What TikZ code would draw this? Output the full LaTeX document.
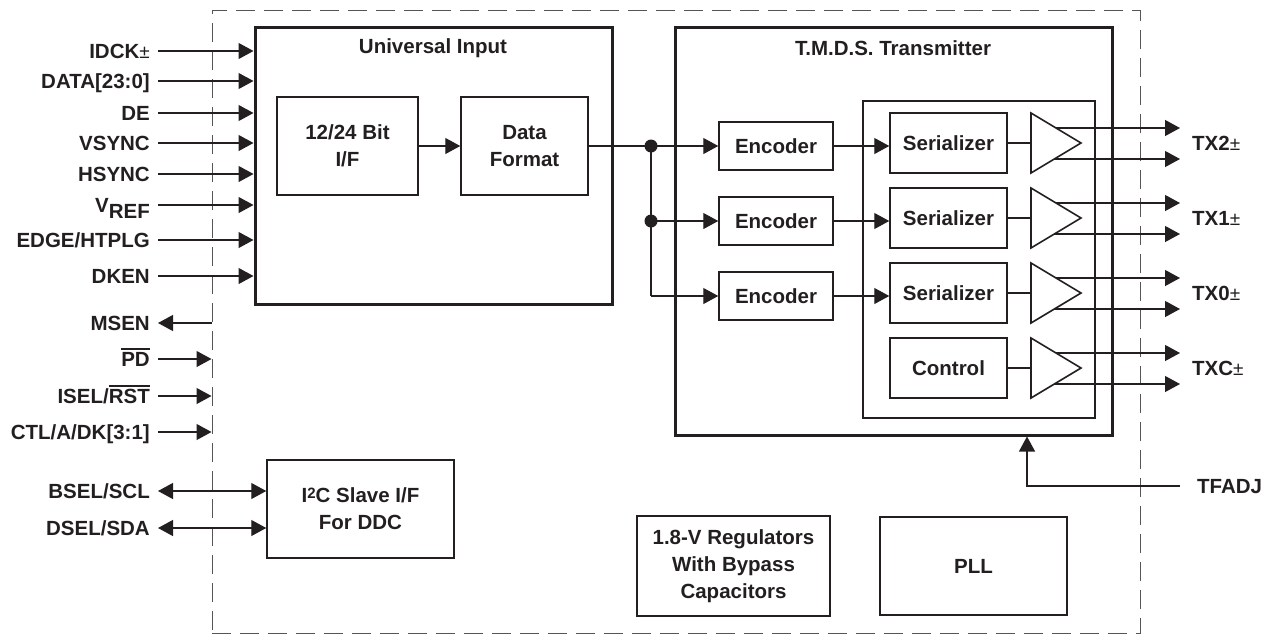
\documentclass[tikz,border=0pt]{standalone}
\usepackage{fontspec}
\setmainfont{Liberation Sans}
\usetikzlibrary{arrows.meta}
\definecolor{txt}{HTML}{231F20}
\definecolor{dashgray}{HTML}{555555}
\newcommand\ovl[1]{\leavevmode\vbox{\hrule height 1.8pt\kern 2.5pt\hbox{#1}}}
\newcommand\pmk{{\mdseries\fontsize{19}{19}\selectfont ±}}
\begin{document}
\begin{tikzpicture}[x=1pt,y=-1pt,
  every node/.style={font=\bfseries\fontsize{20.5}{27}\selectfont, text=txt},
  box/.style={draw=txt, line width=1.5pt, inner sep=0pt, align=center},
  bigbox/.style={draw=txt, line width=3pt, inner sep=0pt},
  conn/.style={draw=txt, line width=1.2pt},
  sig/.style={conn, -{Triangle[length=15pt,width=16pt]}},
  sigback/.style={conn, {Triangle[length=15pt,width=16pt]}-},
  sigboth/.style={conn, {Triangle[length=15pt,width=16pt]}-{Triangle[length=15pt,width=16pt]}},
  lbl/.style={anchor=east, inner sep=0pt, text height=15pt, text depth=0pt},
  rlbl/.style={anchor=west, inner sep=0pt, text height=15pt, text depth=0pt},
  dot/.style={circle, fill=txt, inner sep=0pt, minimum size=13pt},
  tri/.style={draw=txt, line width=1.6pt, line join=miter}
]
\useasboundingbox (0,0) rectangle (1265,635);

% chip outline
\node[draw=dashgray, line width=1pt, dash pattern=on 19pt off 9pt, minimum width=928pt, minimum height=623pt, inner sep=0pt] (chip) at (676,321.5) {};

% Universal input
\node[bigbox, minimum width=357pt, minimum height=277pt] (ui) at (433.5,165.5) {};
\node (uit) at (433,48) {Universal Input};
\node[box, minimum width=141pt, minimum height=98pt] (bit) at (347.5,146) {12/24 Bit\\I/F};
\node[box, minimum width=127pt, minimum height=98pt] (df) at (524.5,146) {Data\\Format};
\draw[sig] (bit.east) -- (df.west);

% TMDS transmitter
\node[bigbox, minimum width=437pt, minimum height=408pt] (tmds) at (893.5,231) {};
\node (tmt) at (893,48) {T.M.D.S. Transmitter};
\node[box, minimum width=232pt, minimum height=317pt] (inner) at (979,259.5) {};

\node[box, minimum width=114pt, minimum height=48pt] (enc1) at (776,146) {Encoder};
\node[box, minimum width=114pt, minimum height=48pt] (enc2) at (776,221) {Encoder};
\node[box, minimum width=114pt, minimum height=48pt] (enc3) at (776,296) {Encoder};

\node[dot] (d1) at (651,146) {};
\node[dot] (d2) at (651,221) {};
\coordinate (c3) at (651,296);
\draw[conn] (df.east) -- (d1.center);
\draw[conn] (d1.center) -- (c3);
\draw[sig] (d1.center) -- (enc1.west |- d1.center);
\draw[sig] (d2.center) -- (enc2.west |- d2.center);
\draw[sig] (c3) -- (enc3.west |- c3);

\foreach \i/\c/\t/\o in {1/143/Serializer/TX2,2/218/Serializer/TX1,3/293/Serializer/TX0,4/368/Control/TXC}{
  \node[box, minimum width=117pt, minimum height=60pt] (s\i) at (948.5,\c) {\t};
  \coordinate (tin\i) at (1031,\c);
  \draw[tri] (1031,\c-30) -- (1081,\c) -- (1031,\c+30) -- cycle;
  \draw[conn] (s\i.east) -- (tin\i);
  \coordinate (ta\i) at (1056,\c-15);
  \coordinate (tb\i) at (1054,\c+16);
  \coordinate (oa\i) at (1180,\c-15);
  \coordinate (ob\i) at (1180,\c+16);
  \draw[sig] (ta\i) -- (oa\i);
  \draw[sig] (tb\i) -- (ob\i);
  \node[rlbl] (tx\i) at (1192,\c) {\o\pmk};
}
\draw[sig] (enc1.east) -- (s1.west |- enc1.east);
\draw[sig] (enc2.east) -- (s2.west |- enc2.east);
\draw[sig] (enc3.east) -- (s3.west |- enc3.east);

% TFADJ
\node[rlbl] (tf) at (1197,486) {TFADJ};
\coordinate (tfc) at (1027,486);
\draw[sig] ([xshift=-17pt]tf.west) -| (tmds.south -| tfc);

% left inputs
\node[lbl] (l1) at (150,51) {IDCK\pmk};
\node[lbl] (l2) at (150,81) {DATA[23:0]};
\node[lbl] (l3) at (150,113) {DE};
\node[lbl] (l4) at (150,143) {VSYNC};
\node[lbl] (l5) at (150,174) {HSYNC};
\node[lbl] (l6) at (150,205) {V\raisebox{-6pt}{REF}};
\node[lbl] (l7) at (150,240) {EDGE/HTPLG};
\node[lbl] (l8) at (150,276) {DKEN};
\foreach \n in {l1,l2,l3,l4,l5,l6,l7,l8}{
  \draw[sig] ([xshift=8pt]\n.east) -- (ui.west |- \n.east);
}

\node[lbl] (ms) at (150,323) {MSEN};
\draw[sigback] ([xshift=8pt]ms.east) -- (chip.west |- ms.east);

\node[lbl] (pd) at (150,359) {\ovl{PD}};
\node[lbl] (is) at (150,396) {ISEL/\ovl{RST}};
\node[lbl] (ct) at (150,432) {CTL/A/DK[3:1]};
\foreach \n in {pd,is,ct}{
  \draw[sig] ([xshift=8pt]\n.east) -- (chip.west |- \n.east);
}

% I2C
\node[box, minimum width=187pt, minimum height=98pt] (i2c) at (360.5,509) {I\raisebox{4.5pt}{\fontsize{15}{15}\selectfont 2}C Slave I/F\\For DDC};
\node[lbl] (bs) at (150,491) {BSEL/SCL};
\node[lbl] (ds) at (150,528) {DSEL/SDA};
\draw[sigboth] ([xshift=8pt]bs.east) -- (i2c.west |- bs.east);
\draw[sigboth] ([xshift=8pt]ds.east) -- (i2c.west |- ds.east);

% bottom blocks
\node[box, minimum width=193pt, minimum height=100pt] (reg) at (733.5,566) {1.8-V Regulators\\With Bypass\\Capacitors};
\node[box, minimum width=187pt, minimum height=98pt] (pll) at (973.5,566) {PLL};
\end{tikzpicture}
\end{document}
